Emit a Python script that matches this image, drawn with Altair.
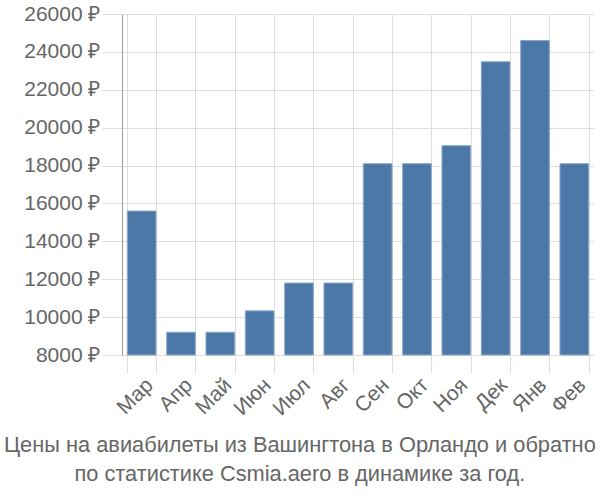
import altair as alt
import pandas as pd

months = ["Мар", "Апр", "Май", "Июн", "Июл", "Авг", "Сен", "Окт", "Ноя", "Дек", "Янв", "Фев"]
prices = [15600, 9200, 9200, 10330, 11800, 11800, 18100, 18100, 19050, 23480, 24600, 18100]
y_ticks = [8000, 10000, 12000, 14000, 16000, 18000, 20000, 22000, 24000, 26000]
title_lines = ["Цены на авиабилеты из Вашингтона в Орландо и обратно",
               "по статистике Csmia.aero в динамике за год."]

df = pd.DataFrame({"month": months, "price": prices})

FONT = "Liberation Sans"
GRAY = "#666666"

chart = alt.Chart(df).mark_bar(
    color="#4c78a8", stroke="#8fa9c9", strokeWidth=1
).encode(
    x=alt.X("month:N", sort=months,
            scale=alt.Scale(paddingInner=0.27, paddingOuter=0.135),
            axis=alt.Axis(title=None, labelAngle=-45, labelFontSize=21, labelColor=GRAY,
                          labelFont=FONT, tickBand="extent", tickSize=18, tickColor="#dddddd",
                          gridColor="#dddddd", grid=True, domainColor="#dddddd",
                          labelPadding=1)),
    y=alt.Y("price:Q", scale=alt.Scale(domain=[8000, 26000], nice=False, zero=False),
            axis=alt.Axis(title=None, values=y_ticks, labelExpr="datum.value + ' ₽'",
                          labelFontSize=21, labelColor=GRAY, labelFont=FONT,
                          tickSize=20, tickColor="#dddddd", gridColor="#dddddd",
                          domainColor="#999999", labelPadding=2)),
    y2=alt.datum(8000),
).properties(
    width=472, height=341,
    title=alt.TitleParams(title_lines, orient="bottom", anchor="middle", frame="bounds",
                          font=FONT, fontSize=21.8, fontWeight="normal", color=GRAY,
                          offset=16, lineHeight=29, dx=-9),
    autosize=alt.AutoSizeParams(type="none"),
    padding={"left": 122, "top": 14, "right": 6, "bottom": 145},
).configure_view(stroke=None)

chart.save("out.html", embed_options={"renderer": "svg", "actions": False})
